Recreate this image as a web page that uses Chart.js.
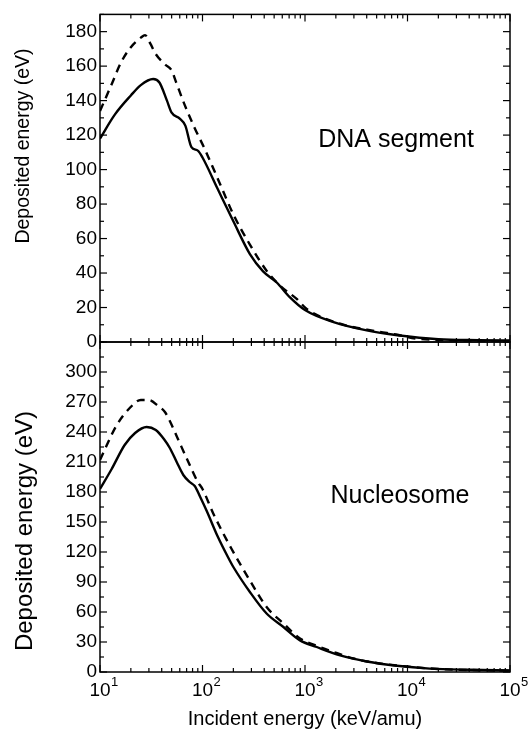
<!DOCTYPE html>
<html>
<head>
<meta charset="utf-8">
<script src="https://cdn.jsdelivr.net/npm/chart.js@4.4.0/dist/chart.umd.min.js"></script>
<style>
    html, body { margin: 0; padding: 0; background: #fff; }
    #wrap { position: relative; width: 530px; height: 731px; }
    #wrap canvas { position: absolute; left: 0; top: 0; }
</style>
</head>
<body>
<div id="wrap">
    <canvas id="dnaChart" width="530" height="731"></canvas>
    <canvas id="nucChart" width="530" height="731"></canvas>
</div>
<script>
    // x axis: incident energy (keV/amu), log scale
    const xDecades = [10, 100, 1000, 10000, 100000];

    // DNA segment panel (deposited energy, eV)
    const dnaSolidE   = [10, 14, 20, 25, 33, 38, 45, 50, 60, 68, 78, 90, 100, 140, 200, 290, 390, 530, 710, 1000, 1900, 4000, 8000, 20000, 50000, 100000];
    const dnaSolidEv  = [118, 132, 143, 149, 152.5, 150.5, 140, 133, 129.5, 125.5, 113, 111, 107, 89, 70, 51, 41, 34.5, 26, 18.5, 11.5, 6.7, 3.9, 1.6, 1.1, 0.9];
    const dnaDashedE  = [10, 13, 16, 20, 25, 27.5, 31, 35, 43, 50, 55, 67, 84, 105, 145, 200, 290, 420, 570, 830, 1040, 2200, 5000, 8000, 12000, 20000, 50000, 100000];
    const dnaDashedEv = [134, 149.5, 162, 171, 176.5, 178, 173, 167, 161, 157.5, 151, 137.5, 124, 112, 93, 74, 56.5, 41.5, 32.7, 25, 19.2, 10.6, 6.2, 4.2, 2, 1.2, 0.7, 0.5];

    // Nucleosome panel (deposited energy, eV)
    const nucSolidE   = [10, 13, 17.4, 22, 28.5, 35, 42, 48, 56, 65, 75, 84, 95, 110, 140, 177, 200, 290, 422, 616, 894, 1300, 2200, 4000, 7850, 16500, 40000, 100000];
    const nucSolidEv  = [183, 203, 227, 239, 245, 242, 233, 224, 210, 197, 190, 186, 175, 161, 136, 115, 105, 80, 58.5, 45, 31.6, 25, 16.6, 10.5, 6.2, 3.4, 2.2, 1.5];
    const nucDashedE  = [10, 14.4, 19.5, 25, 30, 37, 43, 48, 57.6, 72, 90, 100, 128, 190, 290, 422, 616, 894, 1400, 2030, 2970, 5000, 9800, 20000, 50000, 100000];
    const nucDashedEv = [212, 246, 264, 272, 272, 266, 260, 251, 233, 211, 190, 183, 158, 124, 91.5, 65, 48.5, 33.5, 25, 19, 13.5, 9, 5.5, 3, 1.8, 1.2];

    // labelled y ticks
    const dnaYLabels = [0, 20, 40, 60, 80, 100, 120, 140, 160, 180];
    const nucYLabels = [0, 30, 60, 90, 120, 150, 180, 210, 240, 270, 300];

    const FONT = "'Liberation Sans', Arial, Helvetica, sans-serif";

    function toPoints(xs, ys) {
        return xs.map((x, i) => ({ x: x, y: ys[i] }));
    }

    // minor + major tick positions on the log axis
    const xTickValues = [];
    xDecades.forEach((d, i) => {
        for (let m = 1; m <= 9; m++) {
            if (i === xDecades.length - 1 && m > 1) break;
            xTickValues.push(d * m);
        }
    });

    function strokeLine(ctx, x1, y1, x2, y2) {
        ctx.beginPath();
        ctx.moveTo(x1, y1);
        ctx.lineTo(x2, y2);
        ctx.stroke();
    }

    // frame, inward tick marks and the free text of each panel
    const frameTicks = {
        id: 'frameTicks',
        afterDatasetsDraw(chart, args, opts) {
            const ctx = chart.ctx;
            const a = chart.chartArea;
            const xs = chart.scales.x;
            const ys = chart.scales.y;
            ctx.save();
            ctx.strokeStyle = '#000';
            ctx.fillStyle = '#000';
            ctx.lineWidth = 1.2;

            ys.ticks.forEach(t => {
                const y = ys.getPixelForValue(t.value);
                const len = opts.yLabels.includes(t.value) ? 7 : 4;
                strokeLine(ctx, a.left, y, a.left + len, y);
                strokeLine(ctx, a.right, y, a.right - len, y);
            });
            xTickValues.forEach(v => {
                const x = xs.getPixelForValue(v);
                const len = xDecades.includes(v) ? 7 : 4;
                strokeLine(ctx, x, a.top, x, a.top + len);
                strokeLine(ctx, x, a.bottom, x, a.bottom - len);
            });

            ctx.lineWidth = 1.5;
            ctx.strokeRect(a.left, a.top, a.right - a.left, a.bottom - a.top);

            // panel name
            ctx.font = '25px ' + FONT;
            ctx.textAlign = 'center';
            ctx.textBaseline = 'alphabetic';
            ctx.fillText(opts.label, xs.getPixelForValue(opts.labelAt[0]), ys.getPixelForValue(opts.labelAt[1]));

            // y title
            ctx.save();
            ctx.translate(opts.yTitleAt[0], opts.yTitleAt[1]);
            ctx.rotate(-Math.PI / 2);
            ctx.font = opts.yTitleSize + 'px ' + FONT;
            ctx.fillText('Deposited energy (eV)', 0, 0);
            ctx.restore();

            if (opts.xLabels) {
                xDecades.forEach(v => {
                    const x = xs.getPixelForValue(v);
                    ctx.font = '19px ' + FONT;
                    ctx.textAlign = 'center';
                    ctx.fillText('10', x, a.bottom + 24);
                    ctx.font = '13px ' + FONT;
                    ctx.textAlign = 'left';
                    ctx.fillText(String(Math.round(Math.log10(v))), x + 11, a.bottom + 14);
                });
                ctx.font = '20px ' + FONT;
                ctx.textAlign = 'center';
                ctx.fillText('Incident energy (keV/amu)', (a.left + a.right) / 2, a.bottom + 53);
            }
            ctx.restore();
        }
    };

    function makeChart(canvasId, solid, dashed, yMax, yStep, yLabels, padding, panelOpts) {
        const ctx = document.getElementById(canvasId).getContext('2d');
        return new Chart(ctx, {
            type: 'line',
            data: {
                datasets: [{
                    label: 'solid',
                    data: solid,
                    borderColor: '#000',
                    borderWidth: 2.4,
                    pointRadius: 0,
                    cubicInterpolationMode: 'monotone',
                    fill: false
                }, {
                    label: 'dashed',
                    data: dashed,
                    borderColor: '#000',
                    borderWidth: 2.4,
                    borderDash: [8, 6],
                    pointRadius: 0,
                    cubicInterpolationMode: 'monotone',
                    fill: false
                }]
            },
            options: {
                responsive: false,
                animation: false,
                layout: { padding: padding },
                plugins: {
                    legend: { display: false },
                    tooltip: { enabled: false },
                    frameTicks: Object.assign({ yLabels: yLabels }, panelOpts)
                },
                scales: {
                    x: {
                        type: 'logarithmic',
                        min: 10,
                        max: 100000,
                        display: false
                    },
                    y: {
                        min: 0,
                        max: yMax,
                        afterFit: (scale) => { scale.width = 100; },
                        grid: { display: false, drawTicks: false },
                        border: { display: false },
                        ticks: {
                            stepSize: yStep,
                            autoSkip: false,
                            padding: 3,
                            color: '#000',
                            font: { family: FONT, size: 19 },
                            callback: (v) => yLabels.includes(v) ? String(v) : ''
                        }
                    }
                }
            },
            plugins: [frameTicks]
        });
    }

    makeChart('dnaChart',
        toPoints(dnaSolidE, dnaSolidEv), toPoints(dnaDashedE, dnaDashedEv),
        190, 10, dnaYLabels,
        { left: 0, right: 20, top: 13, bottom: 389 },
        { label: 'DNA segment', labelAt: [7727, 113.3], yTitleAt: [29, 146], yTitleSize: 19.5, xLabels: false });

    makeChart('nucChart',
        toPoints(nucSolidE, nucSolidEv), toPoints(nucDashedE, nucDashedEv),
        330, 15, nucYLabels,
        { left: 0, right: 20, top: 342, bottom: 59 },
        { label: 'Nucleosome', labelAt: [8450, 169.4], yTitleAt: [32, 531], yTitleSize: 24, xLabels: true });
</script>
</body>
</html>
